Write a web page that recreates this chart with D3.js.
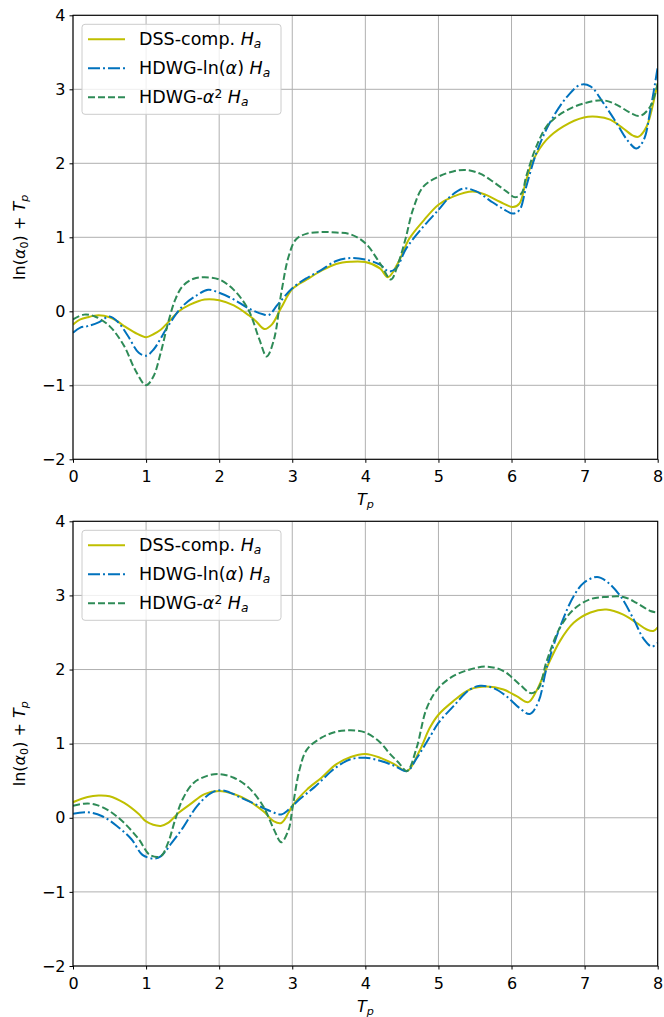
<!DOCTYPE html>
<html><head><meta charset="utf-8">
<script src="https://cdn.jsdelivr.net/npm/d3@7"></script>
<style>body{margin:0;background:#fff} text{font-family:"DejaVu Sans",sans-serif}</style>
</head><body><svg id="c" width="664" height="1017"></svg>
<script>
// ---------- data ----------
const xTicks = [0,1,2,3,4,5,6,7,8];
const yTicks = [-2,-1,0,1,2,3,4];

// top panel
const topDssT = [0,0.1,0.2,0.35,0.5,0.6,0.7,0.85,1.0,1.1,1.2,1.3,1.45,1.6,1.8,2.0,2.2,2.4,2.5,2.62,2.72,2.85,3.0,3.2,3.4,3.6,3.8,4.0,4.2,4.31,4.45,4.6,4.8,5.0,5.2,5.47,5.66,5.84,6.02,6.11,6.2,6.3,6.48,6.71,6.99,7.17,7.35,7.53,7.67,7.74,7.85,7.97,8.0];
const topDssV = [-0.18,-0.11,-0.08,-0.055,-0.08,-0.13,-0.2,-0.29,-0.35,-0.31,-0.25,-0.15,0.0,0.09,0.16,0.15,0.08,-0.05,-0.13,-0.24,-0.18,0.05,0.3,0.43,0.55,0.64,0.67,0.665,0.58,0.46,0.66,0.98,1.23,1.44,1.55,1.62,1.57,1.48,1.41,1.46,1.77,2.05,2.32,2.5,2.62,2.63,2.59,2.47,2.37,2.36,2.5,2.95,3.08];

const topLnT = [0,0.1,0.2,0.35,0.5,0.62,0.75,0.9,1.0,1.1,1.3,1.5,1.7,1.85,2.0,2.2,2.4,2.6,2.68,2.8,3.0,3.2,3.4,3.6,3.8,4.0,4.2,4.32,4.42,4.56,4.79,5.0,5.16,5.34,5.52,5.7,5.89,6.02,6.11,6.2,6.34,6.52,6.76,6.94,7.08,7.26,7.44,7.58,7.71,7.81,7.9,8.0];
const topLnV = [-0.29,-0.22,-0.2,-0.15,-0.07,-0.15,-0.33,-0.56,-0.6,-0.52,-0.2,0.07,0.22,0.29,0.25,0.16,0.04,-0.04,-0.05,0.09,0.31,0.45,0.56,0.68,0.72,0.70,0.63,0.54,0.58,0.85,1.14,1.37,1.55,1.66,1.62,1.5,1.38,1.32,1.37,1.68,2.14,2.54,2.9,3.06,3.04,2.81,2.54,2.32,2.2,2.32,2.72,3.3];

const topSqT = [0,0.15,0.3,0.5,0.7,0.85,1.0,1.1,1.2,1.3,1.4,1.5,1.65,1.8,2.0,2.2,2.4,2.55,2.65,2.75,2.85,2.95,3.05,3.2,3.4,3.6,3.8,4.0,4.2,4.35,4.45,4.55,4.65,4.79,5.0,5.2,5.38,5.57,5.75,5.93,6.05,6.14,6.2,6.34,6.48,6.58,6.76,6.99,7.26,7.44,7.63,7.76,7.9,8.0];
const topSqV = [-0.11,-0.045,-0.07,-0.2,-0.47,-0.79,-1.0,-0.88,-0.56,-0.16,0.16,0.34,0.44,0.46,0.43,0.29,0.02,-0.38,-0.61,-0.38,0.25,0.74,0.97,1.05,1.07,1.065,1.04,0.92,0.65,0.43,0.65,0.98,1.37,1.68,1.82,1.89,1.91,1.86,1.75,1.62,1.54,1.6,1.82,2.23,2.5,2.6,2.72,2.81,2.85,2.79,2.68,2.64,2.77,3.08];

// bottom panel
const botDssT = [0,0.2,0.35,0.5,0.7,0.9,1.0,1.2,1.3,1.45,1.6,1.8,2.0,2.2,2.4,2.6,2.75,2.85,2.95,3.0,3.2,3.4,3.6,3.8,4.0,4.2,4.4,4.57,4.74,4.88,5.0,5.2,5.43,5.66,5.89,6.07,6.23,6.34,6.48,6.66,6.85,7.08,7.3,7.53,7.71,7.85,7.94,8.0];
const botDssV = [0.21,0.28,0.30,0.29,0.2,0.05,-0.05,-0.11,-0.07,0.07,0.18,0.32,0.36,0.32,0.23,0.09,-0.05,-0.07,0.07,0.16,0.38,0.54,0.72,0.82,0.86,0.81,0.72,0.63,0.9,1.21,1.39,1.57,1.73,1.77,1.73,1.64,1.56,1.71,2.02,2.38,2.63,2.77,2.81,2.74,2.63,2.54,2.52,2.57];

const botLnT = [0,0.2,0.4,0.6,0.8,0.95,1.1,1.2,1.35,1.5,1.7,1.9,2.05,2.3,2.5,2.7,2.85,2.95,3.1,3.3,3.6,3.8,4.0,4.2,4.4,4.57,4.7,4.9,5.0,5.2,5.43,5.57,5.75,5.93,6.11,6.25,6.37,6.48,6.67,6.85,6.99,7.17,7.3,7.49,7.67,7.81,7.92,8.0];
const botLnV = [0.055,0.075,0.02,-0.11,-0.29,-0.5,-0.55,-0.52,-0.34,-0.14,0.16,0.34,0.37,0.27,0.18,0.09,0.045,0.11,0.25,0.41,0.68,0.79,0.81,0.77,0.7,0.63,0.8,1.12,1.28,1.5,1.73,1.78,1.75,1.64,1.48,1.4,1.57,2.02,2.59,2.99,3.17,3.25,3.19,2.99,2.68,2.41,2.31,2.36];

const botSqT = [0,0.15,0.3,0.5,0.7,0.9,1.05,1.2,1.3,1.4,1.5,1.65,1.85,2.0,2.2,2.4,2.6,2.75,2.85,2.95,3.0,3.1,3.2,3.4,3.6,3.8,4.0,4.2,4.33,4.45,4.57,4.7,4.84,5.0,5.2,5.43,5.66,5.89,6.11,6.27,6.37,6.48,6.66,6.85,7.08,7.3,7.53,7.71,7.9,8.0];
const botSqV = [0.16,0.19,0.18,0.09,-0.07,-0.29,-0.5,-0.52,-0.34,-0.02,0.25,0.47,0.57,0.59,0.54,0.41,0.16,-0.16,-0.33,-0.16,0.11,0.65,0.92,1.08,1.16,1.18,1.15,1.02,0.87,0.75,0.63,0.94,1.48,1.75,1.91,2.0,2.04,1.98,1.8,1.68,1.75,2.11,2.56,2.81,2.95,2.98,2.98,2.9,2.79,2.77];

const seriesColors = ["#bfbf00","#0072bd","#2e8b57"];
const seriesDash = [null,"12,3,2,3","7,3"];

// ---------- drawing ----------
const svg = d3.select("#c");
const X0 = 73, X1 = 657.7;

function mathLabel(t, parts){
  parts.forEach(([s, st])=>{
    const ts = t.append("tspan").text(s);
    if (st==="i") ts.attr("font-style","italic");
    if (st==="isub") ts.attr("font-style","italic").attr("font-size","0.7em").attr("baseline-shift","-25%");
    if (st==="sub") ts.attr("font-size","0.7em").attr("baseline-shift","-25%");
    if (st==="sup") ts.attr("font-size","0.7em").attr("baseline-shift","45%");
  });
}

function panel(id, yTop, yBot, series){
  const x = d3.scaleLinear().domain([0,8]).range([X0,X1]);
  const y = d3.scaleLinear().domain([-2,4]).range([yBot,yTop]);
  const g = svg.append("g");

  g.append("g").selectAll("line").data(xTicks).join("line")
    .attr("x1",d=>x(d)).attr("x2",d=>x(d)).attr("y1",yTop).attr("y2",yBot)
    .attr("stroke","#b0b0b0").attr("stroke-width",1);
  g.append("g").selectAll("line").data(yTicks).join("line")
    .attr("y1",d=>y(d)).attr("y2",d=>y(d)).attr("x1",X0).attr("x2",X1)
    .attr("stroke","#b0b0b0").attr("stroke-width",1);

  svg.append("clipPath").attr("id","clip"+id).append("rect")
    .attr("x",X0).attr("y",yTop).attr("width",X1-X0).attr("height",yBot-yTop);

  const line = d3.line().x(d=>x(d[0])).y(d=>y(d[1])).curve(d3.curveCatmullRom.alpha(0.5));
  const lg = g.append("g").attr("clip-path",`url(#clip${id})`);
  series.forEach((s,i)=>{
    const pts = s[0].map((t,k)=>[t,s[1][k]]);
    lg.append("path").attr("d",line(pts)).attr("fill","none")
      .attr("stroke",seriesColors[i]).attr("stroke-width",2)
      .attr("stroke-dasharray",seriesDash[i]);
  });

  const ax = g.append("g").attr("transform",`translate(0,${yBot})`)
    .call(d3.axisBottom(x).tickValues(xTicks).tickSize(3.5).tickPadding(4).tickFormat(d3.format("d")));
  const ay = g.append("g").attr("transform",`translate(${X0},0)`)
    .call(d3.axisLeft(y).tickValues(yTicks).tickSize(3.5).tickPadding(4).tickFormat(d=>d<0?"\u2212"+Math.abs(d):d));
  [ax,ay].forEach(a=>{
    a.select(".domain").remove();
    a.selectAll("text").attr("font-size",16).attr("fill","#000").attr("font-family","DejaVu Sans");
    a.selectAll("line").attr("stroke","#000").attr("stroke-width",1);
  });
  ax.selectAll("text").attr("dy","0.95em");
  g.append("rect").attr("x",X0).attr("y",yTop).attr("width",X1-X0).attr("height",yBot-yTop)
    .attr("fill","none").attr("stroke","#000").attr("stroke-width",1.1);

  const xl = g.append("text").attr("x",(X0+X1)/2).attr("y",yBot+46).attr("text-anchor","middle").attr("font-size",16);
  mathLabel(xl,[["T","i"],["p","isub"]]);
  const yl = g.append("text").attr("transform",`translate(25,${(yTop+yBot)/2}) rotate(-90)`).attr("text-anchor","middle").attr("font-size",16);
  mathLabel(yl,[["ln(","n"],["\u03b1","i"],["0","sub"],[") + ","n"],["T","i"],["p","isub"]]);

  const L = g.append("g").attr("transform",`translate(82,${yTop+9})`);
  L.append("rect").attr("x",0).attr("y",0).attr("width",199).attr("height",90).attr("rx",3)
    .attr("fill","#fff").attr("fill-opacity",0.8).attr("stroke","#cccccc").attr("stroke-width",1);
  const labels = [
    [["DSS-comp. ","n"],["H","i"],["a","isub"]],
    [["HDWG-ln(","n"],["\u03b1","i"],[") ","n"],["H","i"],["a","isub"]],
    [["HDWG-","n"],["\u03b1","i"],["2","sup"],[" ","n"],["H","i"],["a","isub"]]
  ];
  labels.forEach((lab,i)=>{
    const cy = 15 + i*29;
    L.append("line").attr("x1",6).attr("x2",43).attr("y1",cy).attr("y2",cy)
      .attr("stroke",seriesColors[i]).attr("stroke-width",2).attr("stroke-dasharray",seriesDash[i]);
    const t = L.append("text").attr("x",57).attr("y",cy+6).attr("font-size",17.5);
    mathLabel(t,lab);
  });
}

panel("a", 15.3, 459.3, [[topDssT,topDssV],[topLnT,topLnV],[topSqT,topSqV]]);
panel("b", 521.3, 966, [[botDssT,botDssV],[botLnT,botLnV],[botSqT,botSqV]]);
</script></body></html>
